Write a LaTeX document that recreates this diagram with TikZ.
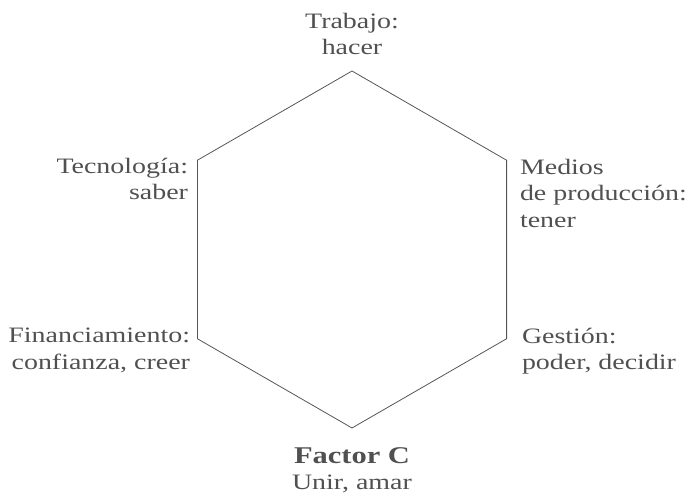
\documentclass[tikz,border=0pt]{standalone}
\usepackage{fontspec}
\setmainfont[FakeStretch=1.27]{Liberation Serif}
\definecolor{txt}{HTML}{505050}
\definecolor{edge}{HTML}{555555}
\newcommand{\labfont}{\fontsize{22bp}{26.5bp}\selectfont}
\tikzset{
  lab/.style={font=\labfont, text=txt, inner sep=0pt, outer sep=0pt},
  hexline/.style={draw=edge, line width=0.8bp, line join=miter}
}
\begin{document}
\begin{tikzpicture}[x=1bp,y=1bp]
\useasboundingbox (0,0) rectangle (692,497);
% hexagon corners
\coordinate (t)  at (352,426);
\coordinate (ur) at (506.6,336.75);
\coordinate (lr) at (506.6,158.25);
\coordinate (b)  at (352,69);
\coordinate (ll) at (197.4,158.25);
\coordinate (ul) at (197.4,336.75);
\draw[hexline] (t) -- (ur) -- (lr) -- (b) -- (ll) -- (ul) -- cycle;
% labels
\node[lab, anchor=north, align=center] (trab) at (352,484) {Trabajo:\\hacer};
\node[lab, anchor=north east, align=right] (tec) at (188,339) {Tecnología:\\saber};
\node[lab, anchor=north west, align=left] (med) at (520,338) {Medios\\de producción:\\tener};
\node[lab, anchor=north east, align=right] (fin) at (190,169) {Financiamiento:\\confianza, creer};
\node[lab, anchor=north west, align=left] (ges) at (522,169) {Gestión:\\poder, decidir};
\node[lab, anchor=north, align=center] (fac) at (352,49.5) {{\fontsize{24bp}{27bp}\selectfont\bfseries Factor C}\\Unir, amar};
\end{tikzpicture}
\end{document}
